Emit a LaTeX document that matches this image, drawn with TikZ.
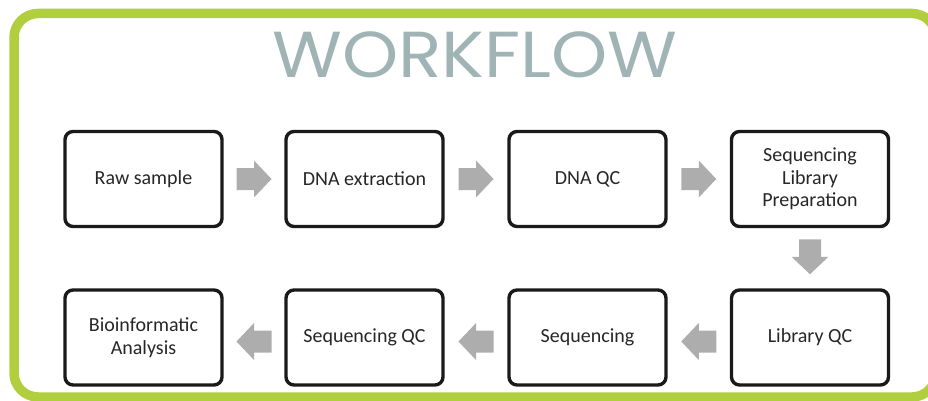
\documentclass[tikz,border=0pt]{standalone}
\usepackage{fontspec}
\setmainfont{Carlito}
\newfontfamily\titlefont{Poppins}
\usetikzlibrary{calc}
\definecolor{framegreen}{HTML}{B0CE3E}
\definecolor{titlegray}{HTML}{A0B4B6}
\definecolor{arrowgray}{HTML}{ADADAD}
\definecolor{boxline}{HTML}{1A1A1A}
\definecolor{boxtext}{HTML}{262626}
\tikzset{
  stepbox/.style={draw=boxline, line width=3.4pt, rounded corners=8pt,
    minimum width=157pt, minimum height=95pt, inner sep=0pt,
    align=center, text=boxtext, font=\fontsize{20}{22.5}\selectfont},
  blockarrow/.pic={\fill[arrowgray] (-17.5,-11) -- (0,-11) -- (0,-18.5) -- (17.5,0)
     -- (0,18.5) -- (0,11) -- (-17.5,11) -- cycle;}
}
\begin{document}
\begin{tikzpicture}[x=1pt,y=-1pt]
\useasboundingbox (0,0) rectangle (928,401);
\begin{scope}
\clip (0,0) rectangle (928,401);
\draw[framegreen, line width=9.5pt, rounded corners=24pt] (14,13.5) rectangle (936,397);
\end{scope}
\node[text=titlegray, font=\titlefont\fontsize{65}{70}\selectfont, anchor=base, inner sep=0pt] (title) at (475,78) {\scalebox{1.1}[1]{WORKFLOW}};
% row 1
\node[stepbox] (b1) at (143.5,179) {Raw sample};
\node[stepbox] (b2) at (364.5,179) {DNA extraction};
\node[stepbox] (b3) at (587.5,179) {DNA QC};
\node[stepbox] (b4) at (810,179) {Sequencing\\Library\\Preparation};
% row 2
\node[stepbox] (b8) at (143.5,337.5) {Bioinformatic\\Analysis};
\node[stepbox] (b7) at (364.5,337.5) {Sequencing QC};
\node[stepbox] (b6) at (587.5,337.5) {Sequencing};
\node[stepbox] (b5) at (810,337.5) {Library QC};
% arrows
\coordinate (a1) at ($(b1.east)!0.5!(b2.west)$);
\coordinate (a2) at ($(b2.east)!0.5!(b3.west)$);
\coordinate (a3) at ($(b3.east)!0.5!(b4.west)$);
\coordinate (a4) at ($(b4.south)!0.5!(b5.north)+(0,-1.5)$);
\coordinate (a5) at ($(b5.west)!0.5!(b6.east)+(0,4)$);
\coordinate (a6) at ($(b6.west)!0.5!(b7.east)+(0,4)$);
\coordinate (a7) at ($(b7.west)!0.5!(b8.east)+(0,4)$);
\pic at (a1) {blockarrow};
\pic at (a2) {blockarrow};
\pic at (a3) {blockarrow};
\pic[rotate=-90] at (a4) {blockarrow};
\pic[rotate=180] at (a5) {blockarrow};
\pic[rotate=180] at (a6) {blockarrow};
\pic[rotate=180] at (a7) {blockarrow};
\end{tikzpicture}
\end{document}
